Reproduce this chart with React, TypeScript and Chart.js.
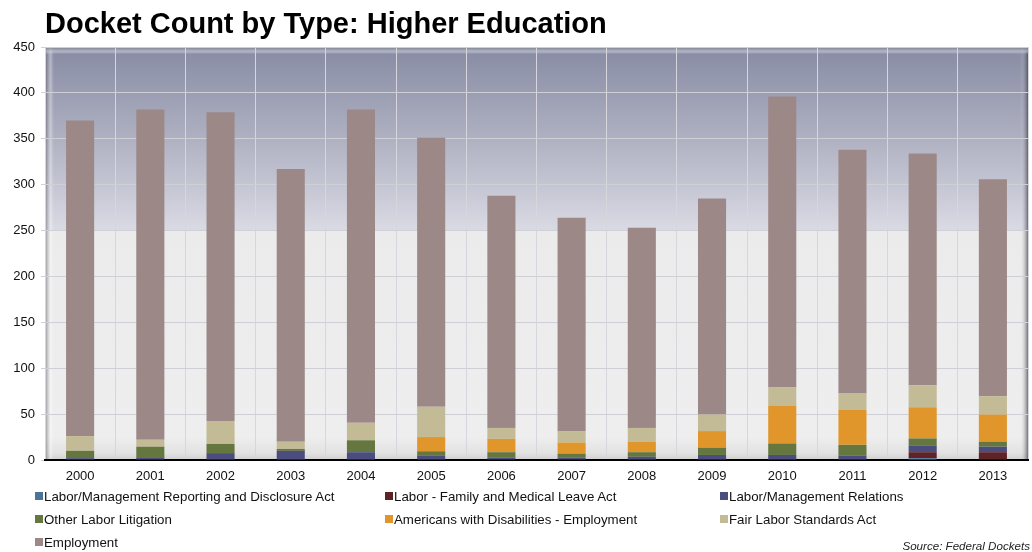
import React, { useEffect, useRef } from "react";
import { Chart, registerables } from "chart.js";

Chart.register(...registerables);

const years = ["2000", "2001", "2002", "2003", "2004", "2005", "2006", "2007", "2008", "2009", "2010", "2011", "2012", "2013"];
const yTicks = [0, 50, 100, 150, 200, 250, 300, 350, 400, 450];

const lmrdaValues = [0, 0, 0, 0, 0, 0, 0, 0, 0, 0, 0, 0, 2, 0];
const fmlaValues = [0, 0, 0, 0, 0, 0, 0, 0, 0, 0, 0, 0, 6.5, 8.5];
const lmrValues = [2, 3, 7.5, 10, 8.5, 4.5, 2.5, 2.5, 3.5, 5.5, 5.5, 5, 7.5, 6];
const otherLaborValues = [8, 11.5, 10, 2, 13, 5, 6, 4.5, 5, 8, 12.5, 11.5, 7.5, 5.5];
const adaValues = [0, 0, 0, 0, 0, 15.5, 14.5, 12, 11.5, 18, 41, 38, 34, 29.5];
const flsaValues = [16, 7.5, 25, 8, 19, 33, 12, 12, 15, 18, 20, 18, 24, 20];
const employmentValues = [344, 360, 336.5, 297, 341.5, 293, 253, 233, 218, 235.5, 317, 265.5, 252.5, 236.5];

const seriesLabels = [
  "Labor/Management Reporting and Disclosure Act",
  "Labor - Family and Medical Leave Act",
  "Labor/Management Relations",
  "Other Labor Litigation",
  "Americans with Disabilities - Employment",
  "Fair Labor Standards Act",
  "Employment",
];
const seriesColors = ["#4d7396", "#5e2326", "#4a4d7d", "#65773f", "#e0962a", "#c2bb96", "#9d8888"];
const seriesValues = [lmrdaValues, fmlaValues, lmrValues, otherLaborValues, adaValues, flsaValues, employmentValues];

const FONT = "'Liberation Sans', Arial, Helvetica, sans-serif";

const backgroundPlugin = {
  id: "plotBackground",
  beforeDraw(chart: any) {
    const { ctx, chartArea } = chart;
    const { left, top, right, bottom } = chartArea;
    const h = bottom - top;
    const split = top + h * 0.445;
    ctx.save();
    const g1 = ctx.createLinearGradient(0, top, 0, split);
    g1.addColorStop(0, "#878ba3");
    g1.addColorStop(0.5, "#afb1c2");
    g1.addColorStop(1, "#dadae4");
    ctx.fillStyle = g1;
    ctx.fillRect(left, top, right - left, split - top);
    const g2 = ctx.createLinearGradient(0, split, 0, bottom);
    g2.addColorStop(0, "#ebebeb");
    g2.addColorStop(0.9, "#eeeeee");
    g2.addColorStop(0.97, "#e2e2e2");
    g2.addColorStop(1, "#cfcfcf");
    ctx.fillStyle = g2;
    ctx.fillRect(left, split, right - left, bottom - split);
    // left bevel
    const gl = ctx.createLinearGradient(left, 0, left + 9, 0);
    gl.addColorStop(0, "rgba(70,70,80,0.6)");
    gl.addColorStop(0.3, "rgba(150,150,160,0.4)");
    gl.addColorStop(0.6, "rgba(255,255,255,0.35)");
    gl.addColorStop(1, "rgba(255,255,255,0)");
    ctx.fillStyle = gl;
    ctx.fillRect(left, top, 9, h);
    // right bevel
    const gr = ctx.createLinearGradient(right - 8, 0, right, 0);
    gr.addColorStop(0, "rgba(255,255,255,0)");
    gr.addColorStop(0.6, "rgba(120,120,130,0.35)");
    gr.addColorStop(1, "rgba(60,60,70,0.7)");
    ctx.fillStyle = gr;
    ctx.fillRect(right - 8, top, 8, h);
    // top bevel
    const gt = ctx.createLinearGradient(0, top, 0, top + 7);
    gt.addColorStop(0, "rgba(110,112,125,0.8)");
    gt.addColorStop(0.6, "rgba(200,204,215,0.6)");
    gt.addColorStop(1, "rgba(255,255,255,0)");
    ctx.fillStyle = gt;
    ctx.fillRect(left, top, right - left, 7);
    ctx.restore();
  },
};

export default function App() {
  const canvasRef = useRef<HTMLCanvasElement>(null);

  useEffect(() => {
    const datasets = seriesLabels.map((label, i) => ({
      label,
      data: seriesValues[i],
      backgroundColor: seriesColors[i],
      borderWidth: 0,
      barPercentage: 0.4,
      categoryPercentage: 1,
    }));

    const chart = new Chart(canvasRef.current!, {
      type: "bar",
      data: { labels: years, datasets },
      plugins: [backgroundPlugin],
      options: {
        responsive: false,
        animation: false,
        layout: { padding: { top: 47, right: 4, bottom: 62, left: 0 } },
        plugins: {
          legend: { display: false },
          title: { display: false },
          tooltip: { enabled: false },
        },
        scales: {
          x: {
            stacked: true,
            grid: { color: "#d6d6dc", lineWidth: 1, drawTicks: false, offset: true },
            border: { color: "#000000", width: 2 },
            ticks: { color: "#111", font: { family: FONT, size: 13 }, padding: 9 },
            afterFit(scale: any) {
              scale.height = 30;
            },
          },
          y: {
            stacked: true,
            min: 0,
            max: 450,
            afterBuildTicks(scale: any) {
              scale.ticks = yTicks.map((v) => ({ value: v }));
            },
            grid: { color: "#cfd0d6", lineWidth: 1, tickLength: 4 },
            border: { display: false },
            ticks: { color: "#111", font: { family: FONT, size: 13 }, padding: 6 },
            afterFit(scale: any) {
              scale.width = 45;
            },
          },
        },
      },
    });
    return () => chart.destroy();
  }, []);

  const legendCols = [35, 385, 720];
  const legendRows = [496, 519, 542];

  return (
    <div style={{ position: "fixed", left: 0, top: 0, width: 1032, height: 552, background: "#fff", overflow: "hidden", fontFamily: FONT }}>
      <canvas ref={canvasRef} width={1032} height={552} style={{ position: "absolute", left: 0, top: 0 }} />
      <div style={{ position: "absolute", left: 45, top: 5, fontSize: 29, fontWeight: "bold", color: "#000", whiteSpace: "nowrap", lineHeight: "36px" }}>
        Docket Count by Type: Higher Education
      </div>
      {seriesLabels.map((label, i) => {
        const col = i % 3;
        const row = Math.floor(i / 3);
        return (
          <div key={label} style={{ position: "absolute", left: legendCols[col], top: legendRows[row] - 8, height: 16, display: "flex", alignItems: "center", fontSize: 13.3, color: "#111", whiteSpace: "nowrap" }}>
            <span style={{ display: "inline-block", width: 8, height: 8, background: seriesColors[i], marginRight: 1 }} />
            {label}
          </div>
        );
      })}
      <div style={{ position: "absolute", right: 2, top: 539, fontSize: 11.6, fontStyle: "italic", color: "#222", whiteSpace: "nowrap" }}>
        Source: Federal Dockets
      </div>
    </div>
  );
}
